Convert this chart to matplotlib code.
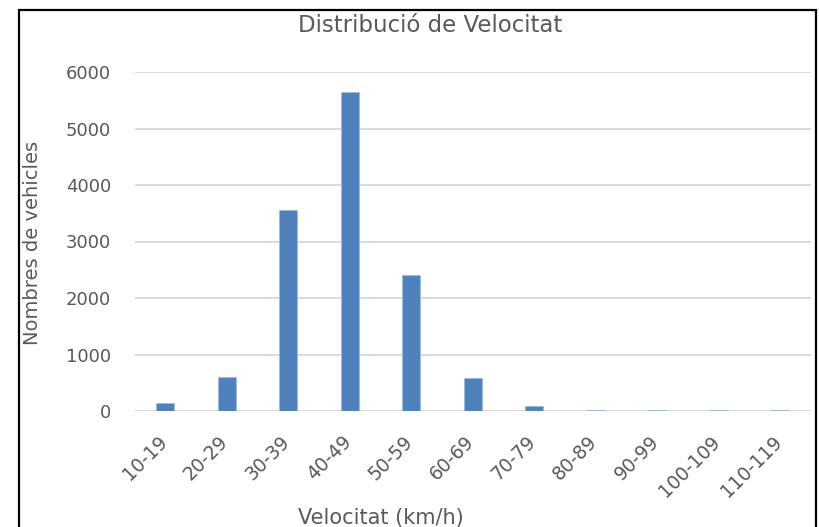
import matplotlib.pyplot as plt
import matplotlib.transforms as mtransforms
import numpy as np
from matplotlib.patches import Rectangle

# Speed bands and vehicle counts
categories = ['10-19', '20-29', '30-39', '40-49', '50-59', '60-69',
              '70-79', '80-89', '90-99', '100-109', '110-119']
counts = [145, 605, 3550, 5645, 2400, 578, 95, 18, 18, 18, 18]
y_ticks = [0, 1000, 2000, 3000, 4000, 5000, 6000]

W, H = 819, 527
plt.rcParams['font.family'] = ['DejaVu Sans']
text_color = '#595959'

fig = plt.figure(figsize=(W / 100, H / 100), dpi=100)
ax = fig.add_axes([134.5 / W, (H - 411) / H, (811 - 134.5) / W, (411 - 72) / H])

x = np.arange(len(categories))
ax.bar(x, counts, width=0.30, color='#4F81BD', edgecolor='#9DBCE0', linewidth=0.6, zorder=3)

ax.set_xlim(-0.5, len(categories) - 0.5)
ax.set_ylim(0, 6000)
ax.set_yticks(y_ticks)
ax.set_yticklabels([str(v) for v in y_ticks])
ax.set_xticks(x)
ax.set_xticklabels(categories, rotation=45, ha='right', rotation_mode='anchor')

ax.grid(axis='y', color='#D9D9D9', linewidth=1.4, zorder=0)
ax.set_axisbelow(True)
for s in ax.spines.values():
    s.set_visible(False)
ax.tick_params(axis='both', length=0, colors=text_color)
ax.tick_params(axis='y', pad=17, labelsize=13)
ax.tick_params(axis='x', pad=15, labelsize=13.5)

# nudge rotated labels left so their ends sit under the bars
shift = mtransforms.ScaledTranslation(-8 / 100, 0, fig.dpi_scale_trans)
for lbl in ax.get_xticklabels():
    lbl.set_transform(lbl.get_transform() + shift)

fig.text(430 / W, 1 - 25 / H, 'Distribució de Velocitat', ha='center', va='center',
         fontsize=16.5, color=text_color)
fig.text(381 / W, 1 - 518 / H, 'Velocitat (km/h)', ha='center', va='center',
         fontsize=15, color=text_color)
fig.text(33 / W, 1 - 243 / H, 'Nombres de vehicles', ha='center', va='center',
         rotation=90, fontsize=14, color=text_color)

# outer chart frame
fig.patches.append(Rectangle((19 / W, -0.02), (816 - 19) / W, 1.02 - 9.5 / H,
                             transform=fig.transFigure, fill=False,
                             edgecolor='black', linewidth=1.6))

fig.savefig('out.png', dpi=100)
